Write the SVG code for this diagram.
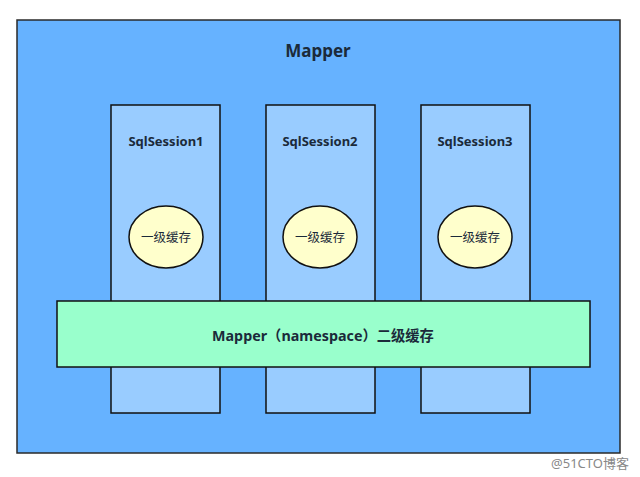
<svg xmlns="http://www.w3.org/2000/svg" width="640" height="477" viewBox="0 0 640 477">
<style>
text{font-family:"Noto Sans","Noto Sans CJK SC",sans-serif;font-weight:bold;fill:#1b2a3a;text-anchor:middle;dominant-baseline:central}
.session{fill:#99CCFF;stroke:#111;stroke-width:1.5}
.cache{fill:#FFFFCC;stroke:#111;stroke-width:1.5}
.l1{font-size:12.5px;font-weight:normal}
.s{font-size:13px}
</style>
<rect width="640" height="477" fill="#fff"/>
<g id="mapper">
<rect x="17" y="20" width="603" height="433" fill="#66B2FF" stroke="#2a2a2a" stroke-width="1.5"/>
<text x="318" y="50" font-size="17">Mapper</text>
</g>
<g id="session1">
<rect class="session" x="111" y="105" width="109" height="308"/>
<text class="s" x="166" y="141">SqlSession1</text>
</g>
<g id="session2">
<rect class="session" x="266" y="105" width="109" height="308"/>
<text class="s" x="320" y="141">SqlSession2</text>
</g>
<g id="session3">
<rect class="session" x="421" y="105" width="109" height="308"/>
<text class="s" x="475" y="141">SqlSession3</text>
</g>
<g id="cache1">
<ellipse class="cache" cx="166" cy="237" rx="37" ry="31"/>
<text class="l1" x="166" y="237">一级缓存</text>
</g>
<g id="cache2">
<ellipse class="cache" cx="320" cy="237" rx="37" ry="31"/>
<text class="l1" x="320" y="237">一级缓存</text>
</g>
<g id="cache3">
<ellipse class="cache" cx="475" cy="237" rx="37" ry="31"/>
<text class="l1" x="475" y="237">一级缓存</text>
</g>
<g id="l2cache">
<rect x="57" y="301" width="533" height="66" fill="#99FFCC" stroke="#111" stroke-width="1.5"/>
<text x="323" y="335" font-size="14.3">Mapper（namespace）二级缓存</text>
</g>
<g id="connectors"></g>
<text x="590" y="463" font-size="13" style="font-weight:normal;fill:#888">@51CTO博客</text>
</svg>
